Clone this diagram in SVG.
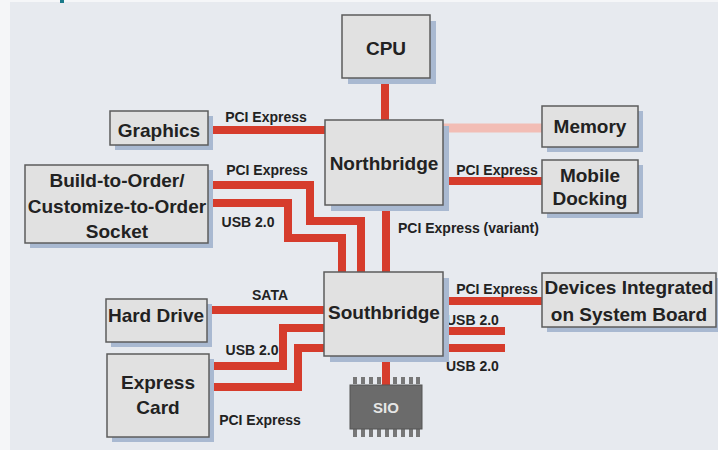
<svg xmlns="http://www.w3.org/2000/svg" width="718" height="450" viewBox="0 0 718 450">
<style>
.bg{fill:#e7eaef}
.sh{fill:#a9b9d1}
.box{fill:#e1e1e1;stroke:#5c5c5c;stroke-width:1.5}
.t{font-family:"Liberation Sans",Arial,sans-serif;font-weight:bold;font-size:19px;fill:#222;text-anchor:middle}
.l{font-family:"Liberation Sans",Arial,sans-serif;font-weight:bold;font-size:14px;fill:#222}
.w{fill:none;stroke:#d63c2c;stroke-width:8;stroke-linejoin:miter}
.pink{fill:none;stroke:#f2bdb5;stroke-width:9}
.pin{fill:#777}
</style>
<rect x="0" y="0" width="718" height="450" fill="#f5f6f8"/>
<rect class="bg" x="10" y="2" width="708" height="448"/>
<rect x="60" y="0" width="4" height="3" fill="#1a7a8a"/>

<g id="connectors">
<polyline class="w" points="385,78 385,120"/>
<polyline class="w" points="208,130 325,130"/>
<polyline class="pink" points="443,128 542,128"/>
<polyline class="w" points="443,181 542,181"/>
<polyline class="w" points="208,185 310,185 310,221 361,221 361,272"/>
<polyline class="w" points="208,203 288,203 288,238 342,238 342,272"/>
<polyline class="w" points="386,205 386,272"/>
<polyline class="w" points="443,301 542,301"/>
<polyline class="w" points="443,331 505,331"/>
<polyline class="w" points="443,348 505,348"/>
<polyline class="w" points="207,310 324,310"/>
<polyline class="w" points="209,366 283,366 283,328 324,328"/>
<polyline class="w" points="209,387 298,387 298,348 324,348"/>
<polyline class="w" points="386,356 386,385"/>
<text class="l" x="266" y="122" text-anchor="middle">PCI Express</text>
<text class="l" x="267" y="175" text-anchor="middle">PCI Express</text>
<text class="l" x="248" y="227" text-anchor="middle">USB 2.0</text>
<text class="l" x="398" y="233">PCI Express (variant)</text>
<text class="l" x="497" y="175" text-anchor="middle">PCI Express</text>
<text class="l" x="497" y="294" text-anchor="middle">PCI Express</text>
<text class="l" x="446" y="325">USB 2.0</text>
<text class="l" x="446" y="371">USB 2.0</text>
<text class="l" x="270" y="300" text-anchor="middle">SATA</text>
<text class="l" x="252" y="355" text-anchor="middle">USB 2.0</text>
<text class="l" x="260" y="425" text-anchor="middle">PCI Express</text>
</g>

<g id="cpu">
<rect class="sh" x="348" y="21" width="88" height="63"/>
<rect class="box" x="342" y="15" width="88" height="63"/>
<text class="t" x="386" y="55">CPU</text>
</g>
<g id="northbridge">
<rect class="sh" x="331" y="126" width="118" height="85"/>
<rect class="box" x="325" y="120" width="118" height="85"/>
<text class="t" x="384" y="170">Northbridge</text>
</g>
<g id="graphics">
<rect class="sh" x="115" y="116" width="98" height="34"/>
<rect class="box" x="110" y="111" width="98" height="34"/>
<text class="t" x="159" y="137">Graphics</text>
</g>
<g id="memory">
<rect class="sh" x="547" y="111" width="96" height="41"/>
<rect class="box" x="542" y="106" width="96" height="41"/>
<text class="t" x="590" y="133">Memory</text>
</g>
<g id="mobile-docking">
<rect class="sh" x="547" y="165" width="96" height="53"/>
<rect class="box" x="542" y="160" width="96" height="53"/>
<text class="t" x="590" y="182">Mobile</text>
<text class="t" x="590" y="205">Docking</text>
</g>
<g id="build-to-order">
<rect class="sh" x="30" y="170" width="183" height="78"/>
<rect class="box" x="25" y="165" width="183" height="78"/>
<text class="t" x="117" y="187">Build-to-Order/</text>
<text class="t" x="117" y="213">Customize-to-Order</text>
<text class="t" x="117" y="238">Socket</text>
</g>
<g id="southbridge">
<rect class="sh" x="330" y="278" width="119" height="84"/>
<rect class="box" x="324" y="272" width="119" height="84"/>
<text class="t" x="384" y="319">Southbridge</text>
</g>
<g id="devices-integrated">
<rect class="sh" x="547" y="278" width="171" height="54"/>
<rect class="box" x="542" y="273" width="174" height="54"/>
<text class="t" x="629" y="294">Devices Integrated</text>
<text class="t" x="629" y="321">on System Board</text>
</g>
<g id="hard-drive">
<rect class="sh" x="111" y="304" width="101" height="43"/>
<rect class="box" x="106" y="299" width="101" height="43"/>
<text class="t" x="156" y="322">Hard Drive</text>
</g>
<g id="express-card">
<rect class="sh" x="112" y="359" width="102" height="83"/>
<rect class="box" x="107" y="354" width="102" height="83"/>
<text class="t" x="158" y="389">Express</text>
<text class="t" x="158" y="414">Card</text>
</g>
<g id="sio">
<rect class="pin" x="353" y="377" width="4" height="7"/>
<rect class="pin" x="361" y="377" width="4" height="7"/>
<rect class="pin" x="369" y="377" width="4" height="7"/>
<rect class="pin" x="377" y="377" width="4" height="7"/>
<rect class="pin" x="393" y="377" width="4" height="7"/>
<rect class="pin" x="401" y="377" width="4" height="7"/>
<rect class="pin" x="409" y="377" width="4" height="7"/>
<rect class="pin" x="416" y="377" width="4" height="7"/>
<rect class="pin" x="353" y="429" width="4" height="8"/>
<rect class="pin" x="361" y="429" width="4" height="8"/>
<rect class="pin" x="369" y="429" width="4" height="8"/>
<rect class="pin" x="377" y="429" width="4" height="8"/>
<rect class="pin" x="385" y="429" width="4" height="8"/>
<rect class="pin" x="393" y="429" width="4" height="8"/>
<rect class="pin" x="401" y="429" width="4" height="8"/>
<rect class="pin" x="409" y="429" width="4" height="8"/>
<rect class="pin" x="416" y="429" width="4" height="8"/>
<rect x="350" y="385" width="72" height="44" fill="#6b6b6b" stroke="#555" stroke-width="1"/>
<text class="t" x="386" y="413" style="font-size:15px;fill:#e6e6e6">SIO</text>
</g>
</svg>
